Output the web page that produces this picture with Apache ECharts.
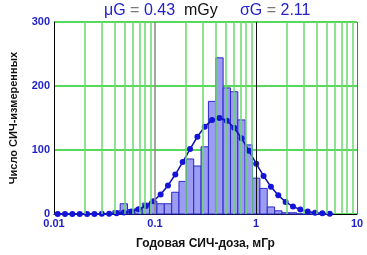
<!DOCTYPE html>
<html>
<head>
<meta charset="utf-8">
<script src="https://cdn.jsdelivr.net/npm/echarts@6/dist/echarts.min.js"></script>
<style>
  html, body { margin: 0; padding: 0; background: #fff; }
  #chart { width: 367px; height: 255px; }
</style>
</head>
<body>
<div id="chart"></div>
<script>
// histogram bin edges (log-spaced, mGy)
var binEdges = [0.01, 0.01182, 0.01398, 0.01653, 0.01955, 0.02312, 0.02734, 0.03233,
  0.03823, 0.04521, 0.05346, 0.06322, 0.07475, 0.0884, 0.1045, 0.1236, 0.1462,
  0.1728, 0.2044, 0.2417, 0.2858, 0.338, 0.3996, 0.4726, 0.5588, 0.6608, 0.7814,
  0.924, 1.0926, 1.292, 1.5278, 1.8067, 2.1364, 2.5263, 2.9874, 3.5326, 4.1773,
  4.9397, 5.8412]
// measured counts per bin
var counts = [0, 0, 0, 0, 0, 0, 0, 0, 5, 16, 7, 9, 17, 20, 16, 16, 34, 51, 86, 75,
  105, 176, 244, 197, 191, 147, 108, 56, 40, 11, 5, 2, 2, 0, 0, 0, 0, 0]
// fitted lognormal curve (muG = 0.43, sigmaG = 2.11), one point per bin
var fitValues = [0, 0, 0, 0, 0, 0.1, 0.2, 0.4, 1.1, 2.2, 4.1, 7.4, 12.4, 20, 30.6,
  44.6, 61.7, 81.1, 101.5, 120.7, 136.5, 146.7, 150, 145.8, 134.8, 118.4, 99, 78.6,
  59.4, 42.7, 29.2, 18.9, 11.7, 6.9, 3.8, 2, 1, 0.5]
var minorLines = [0.02, 0.03, 0.04, 0.05, 0.06, 0.07, 0.08, 0.09,
  0.2, 0.3, 0.4, 0.5, 0.6, 0.7, 0.8, 0.9, 2, 3, 4, 5, 6, 7, 8, 9]

var bars = counts.map(function (c, i) {
  return [binEdges[i], binEdges[i + 1], c]
})
var curve = fitValues.map(function (v, i) {
  return [Math.sqrt(binEdges[i] * binEdges[i + 1]), v]
})

var font = 'Liberation Sans'
var chart = echarts.init(document.getElementById('chart'))
chart.setOption({
  animation: false,
  title: {
    left: 99,
    top: -2,
    text: '{b|μG} {g|=} {b|0.43}  {k|mGy}     {b|σG} {g|=} {b|2.11}',
    textStyle: {
      fontFamily: font,
      fontSize: 16,
      fontWeight: 'normal',
      rich: {
        b: { color: '#2323c8', fontSize: 16, fontWeight: 'normal', fontFamily: font },
        g: { color: '#777', fontSize: 16, fontWeight: 'normal', fontFamily: font },
        k: { color: '#111', fontSize: 16, fontWeight: 'normal', fontFamily: font }
      }
    }
  },
  grid: {
    left: 45,
    right: 10,
    top: 22,
    bottom: 39
  },
  xAxis: {
    type: 'log',
    logBase: 10,
    min: 0.01,
    max: 10,
    name: 'Годовая СИЧ-доза, мГр',
    nameLocation: 'middle',
    nameGap: 24,
    nameTextStyle: { color: '#111', fontWeight: 'bold', fontSize: 12, fontFamily: font },
    axisLine: { show: true, lineStyle: { color: '#000', width: 1 } },
    axisTick: { show: false },
    axisLabel: {
      color: '#1f1fc8',
      fontWeight: 'bold',
      fontSize: 11,
      fontFamily: font,
      margin: 4,
      formatter: function (v) { return String(+v.toPrecision(3)) }
    },
    splitLine: { show: false }
  },
  yAxis: {
    type: 'value',
    min: 0,
    max: 300,
    interval: 100,
    name: 'Число СИЧ-измеренных',
    nameLocation: 'middle',
    nameGap: 35,
    nameTextStyle: { color: '#111', fontWeight: 'bold', fontSize: 11, fontFamily: font },
    axisLine: { show: true, lineStyle: { color: '#000', width: 1 } },
    axisTick: { show: false },
    axisLabel: {
      color: '#1f1fc8',
      fontWeight: 'bold',
      fontSize: 11,
      fontFamily: font,
      margin: 4
    },
    splitLine: { show: true, lineStyle: { color: '#22cc22', width: 1.5 } }
  },
  series: [
    {
      // vertical grid lines only
      type: 'line',
      data: [],
      silent: true,
      z: 1,
      markLine: {
        silent: true,
        symbol: 'none',
        label: { show: false },
        animation: false,
        data: minorLines.map(function (v) {
          return { xAxis: v, lineStyle: { color: '#6ad86a', width: 1.5, type: 'solid' } }
        }).concat([
          { xAxis: 0.1, lineStyle: { color: '#888', width: 1.5, type: 'solid' } },
          { xAxis: 1, lineStyle: { color: '#111', width: 1, type: 'solid' } },
          { xAxis: 10, lineStyle: { color: '#666', width: 1, type: 'solid' } }
        ])
      }
    },
    {
      type: 'custom',
      z: 2,
      data: bars,
      encode: { x: [0, 1], y: 2 },
      renderItem: function (params, api) {
        var p0 = api.coord([api.value(0), api.value(2)])
        var p1 = api.coord([api.value(1), 0])
        return {
          type: 'rect',
          shape: { x: p0[0], y: p0[1], width: p1[0] - p0[0], height: p1[1] - p0[1] },
          style: { fill: '#9c9cf2', stroke: '#2a2ac8', lineWidth: 1 }
        }
      }
    },
    {
      type: 'line',
      z: 3,
      data: curve,
      symbol: 'circle',
      symbolSize: 6,
      itemStyle: { color: '#1414d8' },
      lineStyle: { color: '#1010b0', width: 1.5 }
    }
  ]
})
</script>
</body>
</html>
